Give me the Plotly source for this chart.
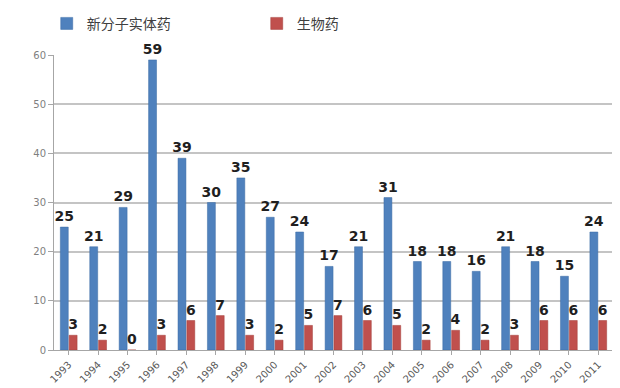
import plotly.graph_objects as go

years = [str(y) for y in range(1993, 2012)]
nme = [25, 21, 29, 59, 39, 30, 35, 27, 24, 17, 21, 31, 18, 18, 16, 21, 18, 15, 24]
bio = [3, 2, 0, 3, 6, 7, 3, 2, 5, 7, 6, 5, 2, 4, 2, 3, 6, 6, 6]
y_ticks = [0, 10, 20, 30, 40, 50, 60]

label_font = dict(family="DejaVu Sans", size=14, color="#1F1F1F", weight="bold")

fig = go.Figure()
fig.add_trace(go.Bar(
    x=years, y=nme, name="新分子实体药",
    marker=dict(color="#4F81BD", line=dict(color="#3A6AA5", width=0.5)),
    text=[str(v) for v in nme], textposition="outside", textfont=label_font,
    cliponaxis=False, constraintext="none",
))
fig.add_trace(go.Bar(
    x=years, y=bio, name="生物药",
    marker=dict(color="#C0504D", line=dict(color="#A33E3B", width=0.5)),
    text=[str(v) for v in bio], textposition="outside", textfont=label_font,
    cliponaxis=False, constraintext="none",
))

fig.update_layout(
    width=612, height=380,
    margin=dict(l=46, r=7, t=47, b=38, autoexpand=False),
    paper_bgcolor="white", plot_bgcolor="white",
    barmode="group", bargap=0.4, bargroupgap=0.1,
    font=dict(family="Noto Sans CJK SC, DejaVu Sans", color="#595959"),
    legend=dict(
        orientation="h", x=-0.013, xanchor="left", y=1.16, yanchor="top",
        font=dict(size=14, color="#404040", family="Noto Sans CJK SC"),
        entrywidth=165, entrywidthmode="pixels",
        bgcolor="rgba(0,0,0,0)",
    ),
)
fig.update_xaxes(
    type="category", tickangle=-45, showline=True, linecolor="#A6A6A6",
    ticks="outside", ticklen=4, tickcolor="#A6A6A6",
    tickfont=dict(size=10, color="#595959", family="DejaVu Sans"),
    showgrid=False, automargin=False,
)
fig.update_yaxes(
    range=[0, 60], tickvals=y_ticks, showgrid=True, gridcolor="#C4C4C4",
    gridwidth=1.5, showline=True, linecolor="#A6A6A6", ticks="outside",
    ticklen=5, tickcolor="#A6A6A6",
    tickfont=dict(size=10, color="#7F7F7F", family="DejaVu Sans"),
    zeroline=False, automargin=False,
)

fig.write_html("out.html")
